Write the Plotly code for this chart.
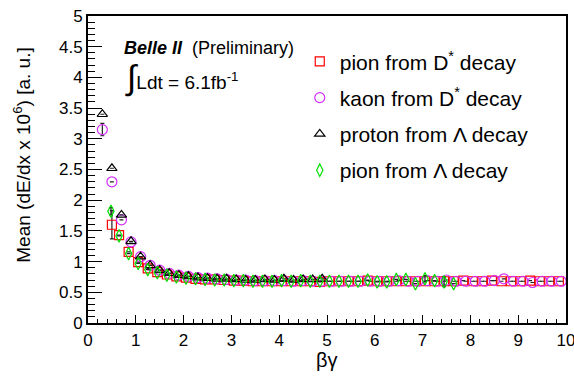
import plotly.graph_objects as go

# ---------------- data ----------------
kaon_x = [0.3, 0.5, 0.7, 0.9, 1.1, 1.3, 1.5, 1.7, 1.9, 2.1, 2.3, 2.5, 2.7, 2.9, 3.1, 3.3, 3.5,
          3.7, 3.9, 4.1, 4.3, 4.5, 4.7, 4.9, 5.1, 5.3, 5.5, 5.7, 5.9, 6.1, 6.3, 6.5, 6.7, 6.9,
          7.1, 7.3, 7.5, 7.7, 7.9, 8.1, 8.3, 8.5, 8.7, 8.9, 9.1, 9.3, 9.5, 9.7, 9.9]
kaon_y = [3.15, 2.30, 1.68, 1.32, 1.08, 0.94, 0.86, 0.81, 0.78, 0.76, 0.74, 0.73, 0.72, 0.71,
          0.70, 0.70, 0.69, 0.69, 0.69, 0.69, 0.68, 0.69, 0.68, 0.68, 0.68, 0.68, 0.68, 0.68,
          0.68, 0.68, 0.68, 0.69, 0.68, 0.68, 0.69, 0.68, 0.70, 0.68, 0.68, 0.68, 0.68, 0.69,
          0.72, 0.68, 0.68, 0.66, 0.68, 0.68, 0.68]
kaon_err = [0.10] + [0.0] * 48

pion_d_x = [0.5, 0.65, 0.85, 1.05, 1.25, 1.45, 1.65, 1.85, 2.05, 2.25, 2.45, 2.65, 2.85, 3.05,
            3.25, 3.45, 3.65, 3.85, 4.05, 4.25, 4.45, 4.65, 4.85, 5.05, 5.25, 5.45, 5.65, 5.85,
            6.05, 6.25, 6.45, 6.65, 6.85, 7.05, 7.25, 7.45, 7.65, 7.85, 8.05, 8.25, 8.45, 8.65,
            8.85, 9.05, 9.25, 9.45, 9.65, 9.85]
pion_d_y = [1.60, 1.43, 1.16, 0.99, 0.89, 0.83, 0.79, 0.76, 0.74, 0.72, 0.71, 0.71, 0.70, 0.69,
            0.69, 0.68, 0.68, 0.68, 0.68, 0.68, 0.68, 0.68, 0.67, 0.68, 0.68, 0.68, 0.68, 0.69,
            0.68, 0.68, 0.68, 0.68, 0.68, 0.68, 0.68, 0.68, 0.68, 0.69, 0.68, 0.68, 0.69, 0.68,
            0.68, 0.68, 0.69, 0.68, 0.68, 0.68]
pion_d_err = [0.23] + [0.0] * 47

proton_x = [0.3, 0.5, 0.7, 0.9, 1.1, 1.3, 1.5, 1.7, 1.9, 2.1, 2.3, 2.5, 2.7, 2.9, 3.1, 3.3,
            3.5, 3.7, 3.9, 4.1, 4.3, 4.5, 4.7, 4.9]
proton_y = [3.40, 2.52, 1.76, 1.33, 1.08, 0.94, 0.86, 0.81, 0.78, 0.76, 0.74, 0.73, 0.72, 0.72,
            0.71, 0.70, 0.70, 0.71, 0.70, 0.72, 0.70, 0.71, 0.71, 0.72]
proton_err = [0.0] * 24

pion_l_x = [0.48, 0.65, 0.85, 1.05, 1.25, 1.45, 1.65, 1.85, 2.05, 2.25, 2.45, 2.65, 2.85, 3.05,
            3.25, 3.45, 3.65, 3.85, 4.05, 4.25, 4.45, 4.65, 4.85, 5.05, 5.25, 5.45, 5.65, 5.85,
            6.05, 6.25, 6.45, 6.65, 6.85, 7.05, 7.25, 7.45, 7.65]
pion_l_y = [1.82, 1.42, 1.13, 0.97, 0.87, 0.82, 0.78, 0.75, 0.73, 0.72, 0.71, 0.70, 0.70, 0.69,
            0.69, 0.68, 0.68, 0.68, 0.69, 0.68, 0.69, 0.68, 0.68, 0.68, 0.68, 0.68, 0.68, 0.70,
            0.67, 0.67, 0.71, 0.71, 0.64, 0.72, 0.69, 0.67, 0.64]
pion_l_err = [0.06] + [0.0] * 32 + [0.05, 0.0, 0.08, 0.0]

x_ticks = [0, 1, 2, 3, 4, 5, 6, 7, 8, 9, 10]
y_ticks = [0, 0.5, 1, 1.5, 2, 2.5, 3, 3.5, 4, 4.5, 5]

FONT = "Liberation Sans, Arial, Helvetica, sans-serif"

fig = go.Figure()

series = [
    ("pion from D<sup>*</sup> decay", pion_d_x, pion_d_y, pion_d_err, "square-open", "#ff0000", 9),
    ("kaon from D<sup>*</sup> decay", kaon_x, kaon_y, kaon_err, "circle-open", "#d22cff", 10),
    ("proton from \u039b decay", proton_x, proton_y, proton_err, "triangle-up-open", "#000000", 9),
    ("pion from \u039b decay", pion_l_x, pion_l_y, pion_l_err, "diamond-tall-open", "#00e000", 9),
]
for i, (name, xs, ys, es, sym, col, sz) in enumerate(series):
    fig.add_trace(go.Scatter(
        x=xs, y=ys, mode="markers", name=name, legendgroup=f"g{i}",
        marker=dict(symbol=sym, size=sz, color=col, line=dict(width=1.2, color=col)),
        error_y=dict(type="data", array=es, visible=True, color="#222222", thickness=1.2, width=2),
    ))

fig.update_layout(
    width=574, height=376,
    margin=dict(l=88, r=8, t=16, b=53, autoexpand=False),
    paper_bgcolor="white", plot_bgcolor="white",
    font=dict(family=FONT, color="black", size=16),
    showlegend=True,
    legend=dict(
        x=0.443, y=0.918, xanchor="left", yanchor="top",
        font=dict(size=21, family=FONT), bgcolor="rgba(0,0,0,0)",
        traceorder="grouped", tracegroupgap=6, itemsizing="trace",
    ),
    xaxis=dict(
        range=[0, 10], tickmode="array", tickvals=x_ticks, ticks="inside", ticklen=8,
        tickwidth=1, tickcolor="black", showgrid=False, zeroline=False, automargin=False,
        showline=True, linecolor="black", linewidth=2, mirror=True,
        minor=dict(dtick=0.2, ticks="inside", ticklen=4, tickcolor="black", tickwidth=1, showgrid=False),
        tickfont=dict(size=17), ticklabeloverflow="allow", ticklabelstandoff=1,
    ),
    yaxis=dict(
        range=[0, 5], tickmode="array", tickvals=y_ticks, ticks="inside", ticklen=14,
        tickwidth=1, tickcolor="black", showgrid=False, zeroline=False, automargin=False,
        showline=True, linecolor="black", linewidth=2, mirror=True,
        minor=dict(dtick=0.1, ticks="inside", ticklen=7, tickcolor="black", tickwidth=1, showgrid=False),
        tickfont=dict(size=17), ticklabeloverflow="allow",
    ),
    annotations=[
        dict(text="<b><i>Belle II</i></b>  (Preliminary)", x=0.072, y=0.895, xref="paper", yref="paper",
             xanchor="left", yanchor="middle", showarrow=False, font=dict(size=18, family=FONT)),
        dict(text="<span style='font-size:34px'>\u222b</span>Ldt = 6.1fb<sup>-1</sup>", x=0.074, y=0.80,
             xref="paper", yref="paper", xanchor="left", yanchor="middle", showarrow=False,
             font=dict(size=19, family=FONT)),
        dict(text="Mean (dE/dx x 10<sup>6</sup>) [a. u.]", x=-0.138, y=0.545, xref="paper", yref="paper",
             xanchor="center", yanchor="middle", textangle=-90, showarrow=False,
             font=dict(size=19, family=FONT)),
        dict(text="\u03b2\u03b3", x=0.5, y=-0.122, xref="paper", yref="paper",
             xanchor="center", yanchor="middle", showarrow=False, font=dict(size=20, family=FONT)),
    ],
)

fig.write_html("out.html")
